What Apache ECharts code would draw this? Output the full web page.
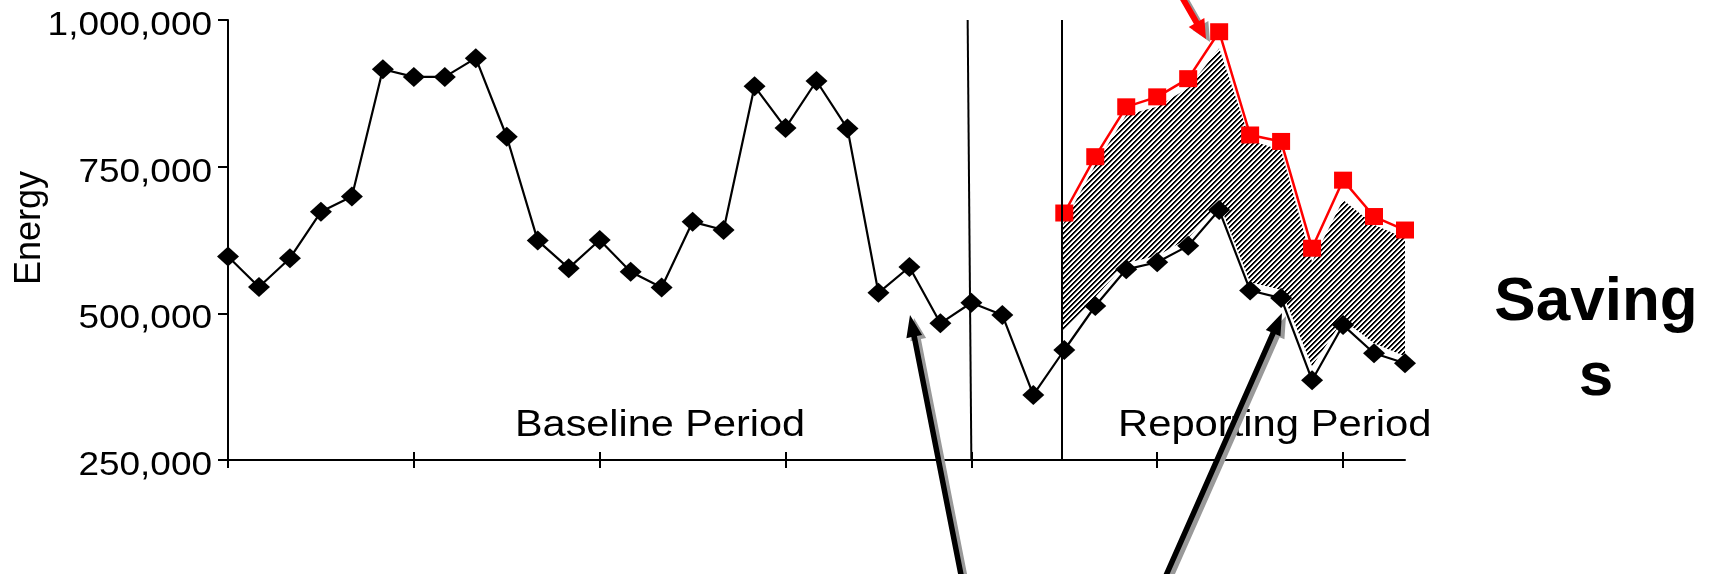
<!DOCTYPE html>
<html><head><meta charset="utf-8">
<script src="https://cdn.jsdelivr.net/npm/echarts@6/dist/echarts.min.js"></script>
<style>html,body{margin:0;padding:0;background:#fff}#c{width:1718px;height:574px}</style>
</head><body><div id="c"></div>
<script>
// ---- data ----
const baselineEnergy = [597000, 545000, 594000, 673000, 699000, 916000, 903000, 903000, 935000, 801000,
  624000, 577000, 625000, 571000, 544000, 656000, 642000, 887000, 816000, 896000,
  815000, 535000, 579000, 483000, 518000, 497000, 361000, 437500, 512500, 575000,
  587000, 615000, 676000, 539000, 526000, 386000, 480000, 432000, 415000];
const adjustedStart = 27;
const adjustedBaseline = [671000, 767000, 852000, 869000, 900000, 980000, 804000, 793000, 611000, 727000, 665000, 642000];
const savingsTop = [649000, 753000, 838000, 852000, 884000, 952000, 795000, 778000, 588000, 693000, 651000, 628000];
const savingsBottom = [466000, 528000, 586000, 598000, 628000, 688000, 553000, 540000, 410000, 489000, 449000, 427000];
const yTicks = [250000, 500000, 750000, 1000000];
const yTickLabels = ['250,000', '500,000', '750,000', '1,000,000'];
const xTicks = [0, 6, 12, 18, 24, 30, 36];
const xMax = 38;
const periodLines = [[23.88, 24], [26.93, 26.93]];
const periodLabels = ['Baseline Period', 'Reporting Period'];
const yAxisTitle = 'Energy';
const sideLabel = ['Saving', 's'];

// ---- hatch pattern ----
const PN = 5;
const shade = [0, 0, 150, 255, 255];
const pc = document.createElement('canvas'); pc.width = PN; pc.height = PN;
const pctx = pc.getContext('2d');
const im = pctx.createImageData(PN, PN);
for (let y = 0; y < PN; y++) for (let x = 0; x < PN; x++) {
  const k = (y * PN + x) * 4;
  const c = shade[(x + y) % PN];
  im.data[k] = c; im.data[k+1] = c; im.data[k+2] = c; im.data[k+3] = 255;
}
pctx.putImageData(im, 0, 0);

function arrowPoly(tail, tip, sw, hl, hw) {
  const dx = tip[0]-tail[0], dy = tip[1]-tail[1];
  const L = Math.hypot(dx, dy), ux = dx/L, uy = dy/L, nx = -uy, ny = ux;
  const bx = tip[0]-ux*hl, by = tip[1]-uy*hl;
  return [[tail[0]+nx*sw/2, tail[1]+ny*sw/2],[bx+nx*sw/2, by+ny*sw/2],[bx+nx*hw/2, by+ny*hw/2],
    tip,[bx-nx*hw/2, by-ny*hw/2],[bx-nx*sw/2, by-ny*sw/2],[tail[0]-nx*sw/2, tail[1]-ny*sw/2]];
}
function arrow(tail, tip, sw, hl, hw, color) {
  const sh = [4, 3];
  return [
    {type:'polygon', z:100, silent:true, shape:{points: arrowPoly([tail[0]+sh[0], tail[1]+sh[1]], [tip[0]+sh[0], tip[1]+sh[1]], sw, hl, hw)}, style:{fill:'#999'}},
    {type:'polygon', z:101, silent:true, shape:{points: arrowPoly(tail, tip, sw, hl, hw)}, style:{fill:color}}
  ];
}

const FONT = '"Liberation Sans", Arial, Helvetica, sans-serif';
const chart = echarts.init(document.getElementById('c'), null, {renderer:'canvas'});

const xCommon = {type:'value', min:0, max:xMax, splitLine:{show:false}, axisLabel:{show:false}};
chart.setOption({
  animation:false,
  backgroundColor:'#fff',
  grid:{left:228, top:20, right:313, bottom:114, containLabel:false},
  xAxis:[
    Object.assign({}, xCommon, {position:'bottom',
      axisLine:{show:true, lineStyle:{color:'#000', width:2}},
      axisTick:{show:true, inside:false, length:8, customValues:xTicks, lineStyle:{color:'#000', width:2}}}),
    Object.assign({}, xCommon, {position:'bottom',
      axisLine:{show:false},
      axisTick:{show:true, inside:true, length:8, customValues:xTicks, lineStyle:{color:'#000', width:2}}})
  ],
  yAxis:{type:'value', min:yTicks[0], max:yTicks[yTicks.length-1], interval:yTicks[1]-yTicks[0],
    splitLine:{show:false},
    axisLine:{show:true, lineStyle:{color:'#000', width:2}},
    axisTick:{show:true, length:10, lineStyle:{color:'#000', width:2}},
    axisLabel:{show:false}
  },
  series:[
    {type:'custom', coordinateSystem:'cartesian2d', silent:true, z:1, clip:false,
      data:[[adjustedStart, savingsTop[0]]],
      renderItem:function(params, api){
        const pts = [];
        const xAt = i => (i === 0 ? periodLines[1][0] : adjustedStart + i);
        for (let i = 0; i < savingsTop.length; i++) pts.push(api.coord([xAt(i), savingsTop[i]]));
        for (let i = savingsBottom.length - 1; i >= 0; i--) pts.push(api.coord([xAt(i), savingsBottom[i]]));
        return {type:'polygon', shape:{points:pts}, style:{fill:{image:pc, repeat:'repeat'}}};
      }
    },
    {type:'custom', coordinateSystem:'cartesian2d', silent:true, z:5, clip:false,
      data: yTicks.map((v, i) => [0, v, i]),
      renderItem:function(params, api){
        const pt = api.coord([api.value(0), api.value(1)]);
        return {type:'text', x:pt[0]-16, y:pt[1]+6, scaleX:1.12,
          style:{text: yTickLabels[api.value(2)], font:'33px '+FONT, fill:'#000', align:'right', verticalAlign:'middle'}};
      }
    },
    {type:'line', name:'Baseline', z:3,
      data: baselineEnergy.map((v,i)=>[i,v]),
      symbol:'diamond', symbolSize:[22,20], showAllSymbol:true,
      lineStyle:{color:'#000', width:2.2}, itemStyle:{color:'#000'},
      markLine:{silent:true, symbol:['none','none'], label:{show:false},
        lineStyle:{color:'#000', width:2, type:'solid'},
        data: periodLines.map(p => [{coord:[p[0], yTicks[yTicks.length-1]]},{coord:[p[1], yTicks[0]]}])}
    },
    {type:'line', name:'Adjusted', z:4,
      data: adjustedBaseline.map((v,i)=>[adjustedStart+i, v]),
      symbol:'rect', symbolSize:[18,17], showAllSymbol:true,
      lineStyle:{color:'#ff0000', width:2.5}, itemStyle:{color:'#ff0000'}
    }
  ],
  graphic:[
    {type:'text', x:30, y:228, rotation:Math.PI/2, silent:true,
      style:{text:yAxisTitle, font:'36px '+FONT, fill:'#000', align:'center', verticalAlign:'middle'}},
    {type:'text', x:515, y:426, scaleX:1.15, silent:true, z:50,
      style:{text:periodLabels[0], font:'36px '+FONT, fill:'#000', align:'left', verticalAlign:'middle'}},
    {type:'text', x:1118, y:426, scaleX:1.16, silent:true, z:50,
      style:{text:periodLabels[1], font:'36px '+FONT, fill:'#000', align:'left', verticalAlign:'middle'}},
    {type:'text', x:1596, y:303, silent:true,
      style:{text:sideLabel[0], font:'bold 62px '+FONT, fill:'#000', align:'center', verticalAlign:'middle'}},
    {type:'text', x:1596, y:378, silent:true,
      style:{text:sideLabel[1], font:'bold 62px '+FONT, fill:'#000', align:'center', verticalAlign:'middle'}}
  ].concat(
    arrow([962, 580], [910, 315], 5.5, 22, 16, '#000'),
    arrow([1164, 580], [1282, 313], 5.5, 22, 16, '#000'),
    arrow([1179, -8], [1206, 39], 6, 19, 18, '#ff0000')
  )
});
</script></body></html>
